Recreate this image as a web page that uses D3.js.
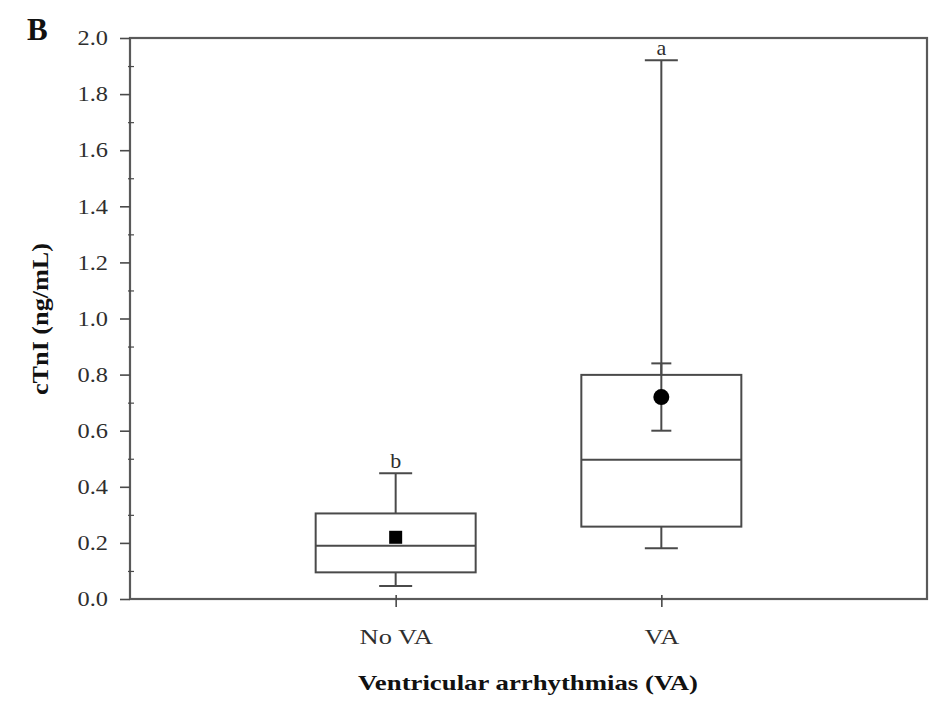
<!DOCTYPE html>
<html>
<head>
<meta charset="utf-8">
<script src="https://cdn.jsdelivr.net/npm/d3@7"></script>
<style>
  html, body { margin: 0; padding: 0; background: #fff; }
  svg { display: block; font-family: "Liberation Serif", "Times New Roman", serif; }
</style>
</head>
<body>
<svg id="chart" width="935" height="706"></svg>
<script>
// Box-plot summaries of cTnI by arrhythmia group
const groups      = ["No VA", "VA"];
const whiskerLow  = [0.046, 0.181];
const quartile1   = [0.095, 0.258];
const medians     = [0.19, 0.496];
const quartile3   = [0.305, 0.799];
const whiskerHigh = [0.448, 1.921];
const means       = [0.22, 0.72];
const meanErr     = [0, 0.12];
const letters     = ["b", "a"];
const markers     = ["square", "circle"];
const yTicks      = [0, 0.2, 0.4, 0.6, 0.8, 1.0, 1.2, 1.4, 1.6, 1.8, 2.0];
const yMinorTicks = [0.1, 0.3, 0.5, 0.7, 0.9, 1.1, 1.3, 1.5, 1.7, 1.9];

const rows = groups.map((g, i) => ({
  group: g, lo: whiskerLow[i], q1: quartile1[i], med: medians[i], q3: quartile3[i],
  hi: whiskerHigh[i], mean: means[i], err: meanErr[i], letter: letters[i], marker: markers[i]
}));

const svg = d3.select("#chart");
const plotLeft = 130, plotRight = 927, plotTop = 38, plotBottom = 599;
const ink = "#4a4a4a";
const textInk = "#2e2e2e";
const serif = "Liberation Serif, Times New Roman, serif";

// Widen text glyphs a little (wide typesetting of the figure's labels)
function widen(sel, factor) {
  sel.each(function () {
    const w = this.getComputedTextLength();
    d3.select(this).attr("textLength", w * factor).attr("lengthAdjust", "spacingAndGlyphs");
  });
}

const x = d3.scalePoint().domain(groups).range([plotLeft, plotRight]).padding(1);
const y = d3.scaleLinear().domain([0, 2]).range([plotBottom, plotTop]);

const boxW = 160, capW = 33, errCapW = 20;

// Plot frame
svg.append("rect")
  .attr("x", plotLeft).attr("y", plotTop)
  .attr("width", plotRight - plotLeft).attr("height", plotBottom - plotTop)
  .attr("fill", "none").attr("stroke", "#5a5a5a").attr("stroke-width", 2.2);

// Y axis: major ticks outward, minor ticks inward
const yAxis = d3.axisLeft(y).tickValues(yTicks).tickSize(10).tickPadding(12)
  .tickFormat(d3.format(".1f"));
const gy = svg.append("g").attr("transform", `translate(${plotLeft},0)`).call(yAxis);
gy.select(".domain").remove();
gy.selectAll(".tick line").attr("stroke", ink).attr("stroke-width", 1.6);
gy.selectAll(".tick text").attr("font-size", 21).attr("fill", textInk)
  .attr("font-family", serif).call(widen, 1.16);

const gyMinor = svg.append("g").attr("transform", `translate(${plotLeft},0)`)
  .call(d3.axisRight(y).tickValues(yMinorTicks).tickSize(4).tickFormat(""));
gyMinor.select(".domain").remove();
gyMinor.selectAll(".tick line").attr("stroke", ink).attr("stroke-width", 1.2).attr("x1", -2);

// X axis
const gx = svg.append("g").attr("transform", `translate(0,${plotBottom})`)
  .call(d3.axisBottom(x).tickSize(8).tickPadding(21));
gx.select(".domain").remove();
gx.selectAll(".tick line").attr("stroke", ink).attr("stroke-width", 1.6).attr("y1", -4);
gx.selectAll(".tick text").attr("font-size", 22).attr("fill", textInk)
  .attr("font-family", serif).call(widen, 1.2);

// Boxes, whiskers, means
const g = svg.append("g").attr("fill", "none").attr("stroke", ink).attr("stroke-width", 2);
rows.forEach(r => {
  const cx = x(r.group);
  g.append("line").attr("x1", cx).attr("x2", cx).attr("y1", y(r.q3)).attr("y2", y(r.hi));
  g.append("line").attr("x1", cx).attr("x2", cx).attr("y1", y(r.q1)).attr("y2", y(r.lo));
  g.append("line").attr("x1", cx - capW / 2).attr("x2", cx + capW / 2).attr("y1", y(r.hi)).attr("y2", y(r.hi));
  g.append("line").attr("x1", cx - capW / 2).attr("x2", cx + capW / 2).attr("y1", y(r.lo)).attr("y2", y(r.lo));
  g.append("rect").attr("x", cx - boxW / 2).attr("y", y(r.q3))
    .attr("width", boxW).attr("height", y(r.q1) - y(r.q3)).attr("fill", "#fff");
  g.append("line").attr("x1", cx - boxW / 2).attr("x2", cx + boxW / 2)
    .attr("y1", y(r.med)).attr("y2", y(r.med));
  if (r.err > 0) {
    g.append("line").attr("x1", cx).attr("x2", cx).attr("y1", y(r.mean + r.err)).attr("y2", y(r.mean - r.err));
    [r.mean + r.err, r.mean - r.err].forEach(v => {
      g.append("line").attr("x1", cx - errCapW / 2).attr("x2", cx + errCapW / 2).attr("y1", y(v)).attr("y2", y(v));
    });
  }
  if (r.marker === "square") {
    svg.append("rect").attr("x", cx - 6.5).attr("y", y(r.mean) - 6.5)
      .attr("width", 13).attr("height", 13).attr("fill", "#000");
  } else {
    svg.append("circle").attr("cx", cx).attr("cy", y(r.mean)).attr("r", 8).attr("fill", "#000");
  }
  // significance letter
  svg.append("text").attr("x", cx).attr("y", y(r.hi) - 5)
    .attr("text-anchor", "middle").attr("font-size", 22).attr("fill", textInk)
    .text(r.letter);
});

// Axis titles
svg.append("text").attr("x", 528).attr("y", 690)
  .attr("text-anchor", "middle").attr("font-size", 22).attr("font-weight", "bold")
  .attr("fill", "#111").text("Ventricular arrhythmias (VA)")
  .attr("textLength", 340).attr("lengthAdjust", "spacingAndGlyphs");

svg.append("text").attr("transform", "translate(48,319) rotate(-90)")
  .attr("text-anchor", "middle").attr("font-size", 23).attr("font-weight", "bold")
  .attr("fill", "#111").text("cTnI (ng/mL)")
  .attr("textLength", 152).attr("lengthAdjust", "spacingAndGlyphs");

// Panel letter
svg.append("text").attr("x", 27).attr("y", 40)
  .attr("font-size", 31).attr("font-weight", "bold").attr("fill", "#111").text("B");
</script>
</body>
</html>
